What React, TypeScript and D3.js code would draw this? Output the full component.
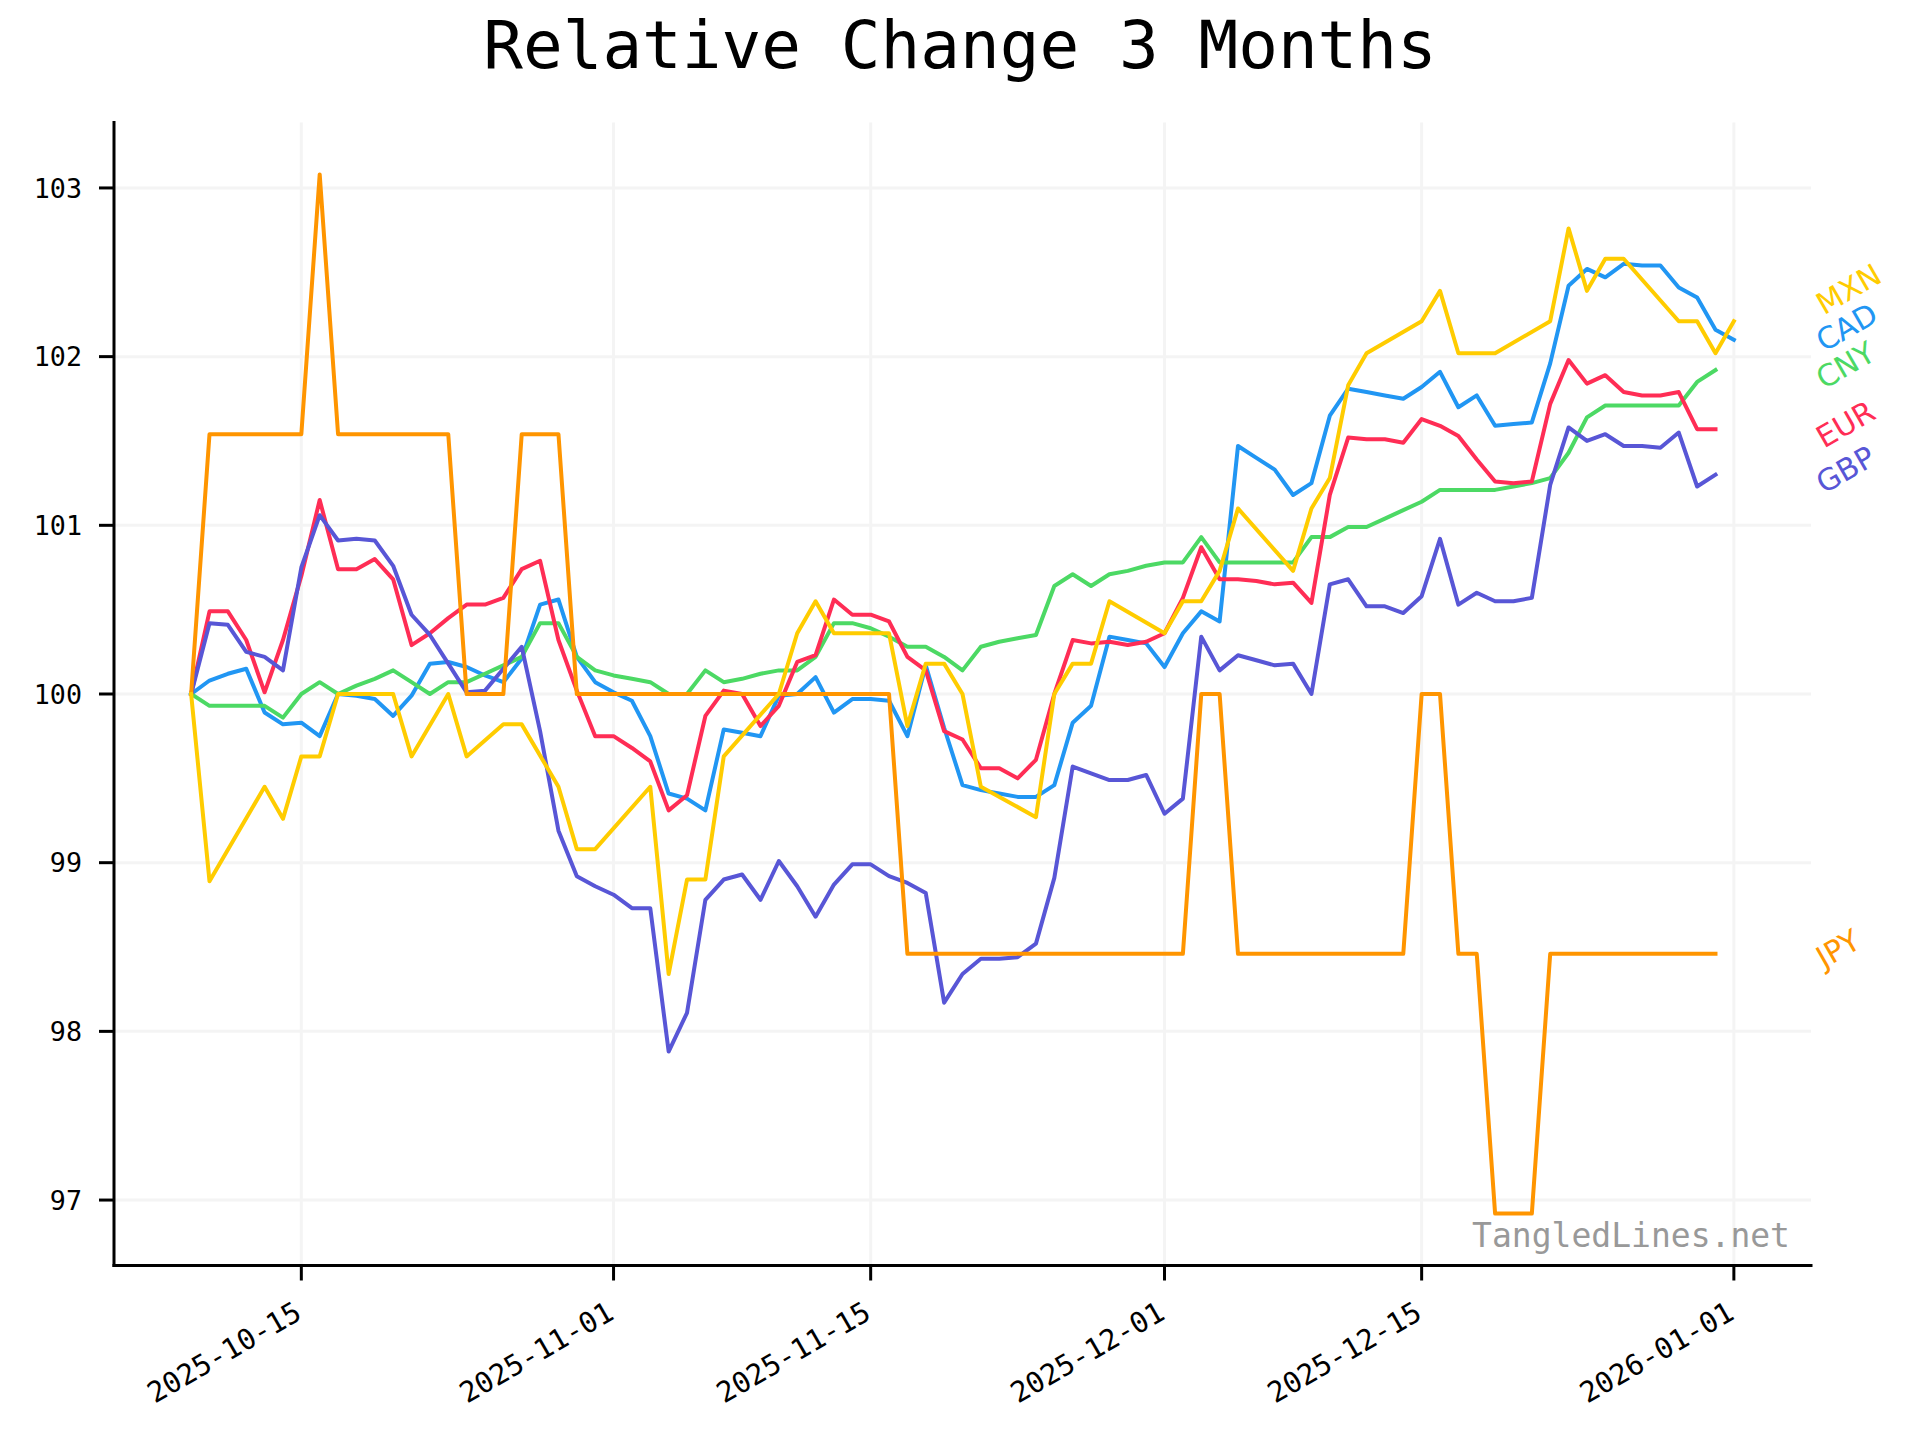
import React from 'react';
import * as d3 from 'd3';

// one column per calendar day, 2025-10-09 .. 2026-01-01 (85 days)
const DAYS = d3.utcDay.range(new Date(Date.UTC(2025, 9, 9)), new Date(Date.UTC(2026, 0, 2)));

// relative change (first day = 100); null = no quote that day
const CAD = [
    100, 100.08, 100.12, 100.15, 99.89, 99.82, 99.83, 99.75, 100.0, 99.99,
    99.97, 99.87, 99.99, 100.18, 100.19, 100.16, 100.11, 100.07, 100.21, 100.53,
    100.56, 100.22, 100.07, 100.01, 99.96, 99.75, 99.41, 99.38, 99.31, 99.79,
    99.77, 99.75, 99.99, 100.0, 100.1, 99.89, 99.97, 99.97, 99.96, 99.75,
    100.17, 99.8, 99.46, 99.43, 99.41, 99.39, 99.39, 99.46, 99.83, 99.93,
    100.34, 100.32, 100.3, 100.16, 100.36, 100.49, 100.43, 101.47, 101.4, 101.33,
    101.18, 101.25, 101.65, 101.81, 101.79, 101.77, 101.75, 101.82, 101.91, 101.7,
    101.77, 101.59, 101.6, 101.61, 101.96, 102.42, 102.52, 102.47, 102.55, 102.54,
    102.54, 102.41, 102.35, 102.16, 102.1,
];

const CNY = [
    100, 99.93, 99.93, 99.93, 99.93, 99.86, 100.0, 100.07, 100.0, 100.05,
    100.09, 100.14, 100.07, 100.0, 100.07, 100.07, 100.12, 100.17, 100.22, 100.42,
    100.42, 100.22, 100.14, 100.11, 100.09, 100.07, 100.0, 100.0, 100.14, 100.07,
    100.09, 100.12, 100.14, 100.14, 100.22, 100.42, 100.42, 100.39, 100.34, 100.28,
    100.28, 100.22, 100.14, 100.28, 100.31, 100.33, 100.35, 100.64, 100.71, 100.64,
    100.71, 100.73, 100.76, 100.78, 100.78, 100.93, 100.78, 100.78, 100.78, 100.78,
    100.78, 100.93, 100.93, 100.99, 100.99, 101.04, 101.09, 101.14, 101.21, 101.21,
    101.21, 101.21, 101.23, 101.25, 101.28, 101.43, 101.64, 101.71, 101.71, 101.71,
    101.71, 101.71, 101.85, 101.92, null,
];

const EUR = [
    100, 100.49, 100.49, 100.32, 100.01, 100.32, 100.7, 101.15, 100.74, 100.74,
    100.8, 100.68, 100.29, 100.36, 100.45, 100.53, 100.53, 100.57, 100.74, 100.79,
    100.32, 100.02, 99.75, 99.75, 99.68, 99.6, 99.31, 99.4, 99.87, 100.02,
    100.0, 99.81, 99.93, 100.19, 100.23, 100.56, 100.47, 100.47, 100.43, 100.22,
    100.14, 99.78, 99.73, 99.56, 99.56, 99.5, 99.61, 100.0, 100.32, 100.3,
    100.31, 100.29, 100.31, 100.36, 100.57, 100.87, 100.68, 100.68, 100.67, 100.65,
    100.66, 100.54, 101.18, 101.52, 101.51, 101.51, 101.49, 101.63, 101.59, 101.53,
    101.39, 101.26, 101.25, 101.26, 101.72, 101.98, 101.84, 101.89, 101.79, 101.77,
    101.77, 101.79, 101.57, 101.57, null,
];

const GBP = [
    100, 100.42, 100.41, 100.25, 100.22, 100.14, 100.75, 101.06, 100.91, 100.92,
    100.91, 100.76, 100.47, 100.35, 100.18, 100.01, 100.02, 100.15, 100.28, 99.78,
    99.19, 98.92, 98.86, 98.81, 98.73, 98.73, 97.88, 98.11, 98.78, 98.9,
    98.93, 98.78, 99.01, 98.86, 98.68, 98.87, 98.99, 98.99, 98.92, 98.88,
    98.82, 98.17, 98.34, 98.43, 98.43, 98.44, 98.52, 98.91, 99.57, 99.53,
    99.49, 99.49, 99.52, 99.29, 99.38, 100.34, 100.14, 100.23, 100.2, 100.17,
    100.18, 100.0, 100.65, 100.68, 100.52, 100.52, 100.48, 100.58, 100.92, 100.53,
    100.6, 100.55, 100.55, 100.57, 101.24, 101.58, 101.5, 101.54, 101.47, 101.47,
    101.46, 101.55, 101.23, 101.3, null,
];

const JPY = [
    100, 101.54, 101.54, 101.54, 101.54, 101.54, 101.54, 103.08, 101.54, 101.54,
    101.54, 101.54, 101.54, 101.54, 101.54, 100, 100, 100, 101.54, 101.54,
    101.54, 100, 100, 100, 100, 100, 100, 100, 100, 100,
    100, 100, 100, 100, 100, 100, 100, 100, 100, 98.46,
    98.46, 98.46, 98.46, 98.46, 98.46, 98.46, 98.46, 98.46, 98.46, 98.46,
    98.46, 98.46, 98.46, 98.46, 98.46, 100, 100, 98.46, 98.46, 98.46,
    98.46, 98.46, 98.46, 98.46, 98.46, 98.46, 98.46, 100, 100, 98.46,
    98.46, 96.92, 96.92, 96.92, 98.46, 98.46, 98.46, 98.46, 98.46, 98.46,
    98.46, 98.46, 98.46, 98.46, null,
];

const MXN = [
    100, 98.89, null, null, 99.45, 99.26, 99.63, 99.63, 100.0, null,
    null, 100.0, 99.63, null, 100.0, 99.63, null, 99.82, 99.82, null,
    99.45, 99.08, 99.08, null, null, 99.45, 98.34, 98.9, 98.9, 99.63,
    null, null, 100.0, 100.36, 100.55, 100.36, null, null, 100.36, 99.81,
    100.18, 100.18, 100.0, 99.45, null, null, 99.27, 100.0, 100.18, 100.18,
    100.55, null, null, 100.36, 100.55, 100.55, 100.73, 101.1, null, null,
    100.73, 101.1, 101.28, 101.83, 102.02, null, null, 102.21, 102.39, 102.02,
    102.02, 102.02, null, null, 102.21, 102.76, 102.39, 102.58, 102.58, null,
    null, 102.21, 102.21, 102.02, 102.21,
];

const SERIES: { name: string; values: (number | null)[] }[] = [
    { name: 'CAD', values: CAD },
    { name: 'CNY', values: CNY },
    { name: 'EUR', values: EUR },
    { name: 'GBP', values: GBP },
    { name: 'JPY', values: JPY },
    { name: 'MXN', values: MXN },
];

const COLORS: Record<string, string> = {
    CAD: '#2196F3',
    CNY: '#4CD964',
    EUR: '#FF2D55',
    GBP: '#5856D6',
    JPY: '#FF9500',
    MXN: '#FFCC00',
};

const X_TICKS = ['2025-10-15', '2025-11-01', '2025-11-15', '2025-12-01', '2025-12-15', '2026-01-01'];
const Y_TICKS = [97, 98, 99, 100, 101, 102, 103];

const W = 1920;
const H = 1440;
const LEFT = 114;
const RIGHT = 1811;
const TOP = 122.5;
const BOTTOM = 1265.5;
const MONO = '"DejaVu Sans Mono", monospace';
const SANS = '"DejaVu Sans", sans-serif';
const TICK_FONT = 26.7;
const LABEL_FONT = 30;

function measure(text: string, font: string) {
    const ctx = document.createElement('canvas').getContext('2d');
    if (!ctx) return text.length * 0.7 * LABEL_FONT;
    ctx.font = font;
    return ctx.measureText(text).width;
}

export default function App() {
    const parse = d3.utcParse('%Y-%m-%d');

    // matplotlib-like 5% margins
    const [t0, t1] = d3.extent(DAYS) as [Date, Date];
    const span = +t1 - +t0;
    const x = d3.scaleUtc()
        .domain([new Date(+t0 - span * 0.05), new Date(+t1 + span * 0.05)])
        .range([LEFT, RIGHT]);

    const all = SERIES.flatMap(s => s.values.filter((v): v is number => v != null));
    const [v0, v1] = d3.extent(all) as [number, number];
    const vpad = (v1 - v0) * 0.05;
    const y = d3.scaleLinear().domain([v0 - vpad, v1 + vpad]).range([BOTTOM, TOP]);

    const line = d3.line<{ t: Date; v: number }>()
        .x(d => x(d.t))
        .y(d => y(d.v));

    const paths = SERIES.map(s => {
        const pts = DAYS.map((t, i) => ({ t, v: s.values[i] }))
            .filter((p): p is { t: Date; v: number } => p.v != null);
        return { name: s.name, d: line(pts) || '', last: pts[pts.length - 1].v };
    });

    // end labels: stacked bottom-up so they don't collide
    const sorted = [...paths].sort((a, b) => a.last - b.last);
    const labels: { name: string; cx: number; cy: number }[] = [];
    let prev = Infinity;
    const cos30 = Math.cos(Math.PI / 6);
    const sin30 = Math.sin(Math.PI / 6);
    sorted.forEach(p => {
        const cy = Math.min(y(p.last) - 5, prev - 38);
        prev = cy;
        const w = measure(p.name, `${LABEL_FONT}px ${SANS}`);
        const h = LABEL_FONT * 1.164;
        const cx = 1810 + (w * cos30 + h * sin30) / 2;
        labels.push({ name: p.name, cx, cy });
    });

    return (
        <svg
            width={W}
            height={H}
            viewBox={`0 0 ${W} ${H}`}
            style={{ position: 'absolute', left: 0, top: 0, background: '#fff' }}
        >
            <rect x={0} y={0} width={W} height={H} fill="#fff" />

            <text x={960} y={68} textAnchor="middle" fontFamily={MONO} fontSize={66} fill="#000">
                Relative Change 3 Months
            </text>

            {/* grid */}
            <g stroke="#f4f4f4" strokeWidth={3}>
                {Y_TICKS.map(t => (
                    <line key={`gy${t}`} x1={LEFT} x2={RIGHT} y1={y(t)} y2={y(t)} />
                ))}
                {X_TICKS.map(t => (
                    <line key={`gx${t}`} x1={x(parse(t)!)} x2={x(parse(t)!)} y1={TOP} y2={BOTTOM} />
                ))}
            </g>

            {/* series */}
            <g fill="none" strokeWidth={4} strokeLinejoin="round" strokeLinecap="square">
                {paths.map(p => (
                    <path key={p.name} d={p.d} stroke={COLORS[p.name]} />
                ))}
            </g>

            {/* watermark */}
            <text x={1790} y={1247} textAnchor="end" fontFamily={MONO} fontSize={33} fill="#999">
                TangledLines.net
            </text>

            {/* spines */}
            <g stroke="#000" strokeWidth={3} strokeLinecap="square">
                <line x1={LEFT} x2={LEFT} y1={TOP} y2={BOTTOM} />
                <line x1={LEFT} x2={RIGHT} y1={BOTTOM} y2={BOTTOM} />
            </g>

            {/* y axis */}
            {Y_TICKS.map(t => (
                <g key={`yt${t}`}>
                    <line x1={LEFT - 15} x2={LEFT} y1={y(t)} y2={y(t)} stroke="#000" strokeWidth={3} />
                    <text x={82} y={y(t)} dy="0.36em" textAnchor="end" fontFamily={MONO} fontSize={TICK_FONT} fill="#000">
                        {t}
                    </text>
                </g>
            ))}

            {/* x axis */}
            {X_TICKS.map(t => {
                const px = x(parse(t)!);
                return (
                    <g key={`xt${t}`}>
                        <line x1={px} x2={px} y1={BOTTOM} y2={BOTTOM + 15} stroke="#000" strokeWidth={3} />
                        <text
                            transform={`translate(${px + 2},1318) rotate(-30)`}
                            textAnchor="end"
                            fontFamily={MONO}
                            fontSize={28.5}
                            fill="#000"
                        >
                            {t}
                        </text>
                    </g>
                );
            })}

            {/* series labels */}
            {labels.map(l => (
                <text
                    key={`lb${l.name}`}
                    transform={`translate(${l.cx},${l.cy}) rotate(-30)`}
                    dy="0.35em"
                    textAnchor="middle"
                    fontFamily={SANS}
                    fontSize={LABEL_FONT}
                    fill={COLORS[l.name]}
                >
                    {l.name}
                </text>
            ))}
        </svg>
    );
}
